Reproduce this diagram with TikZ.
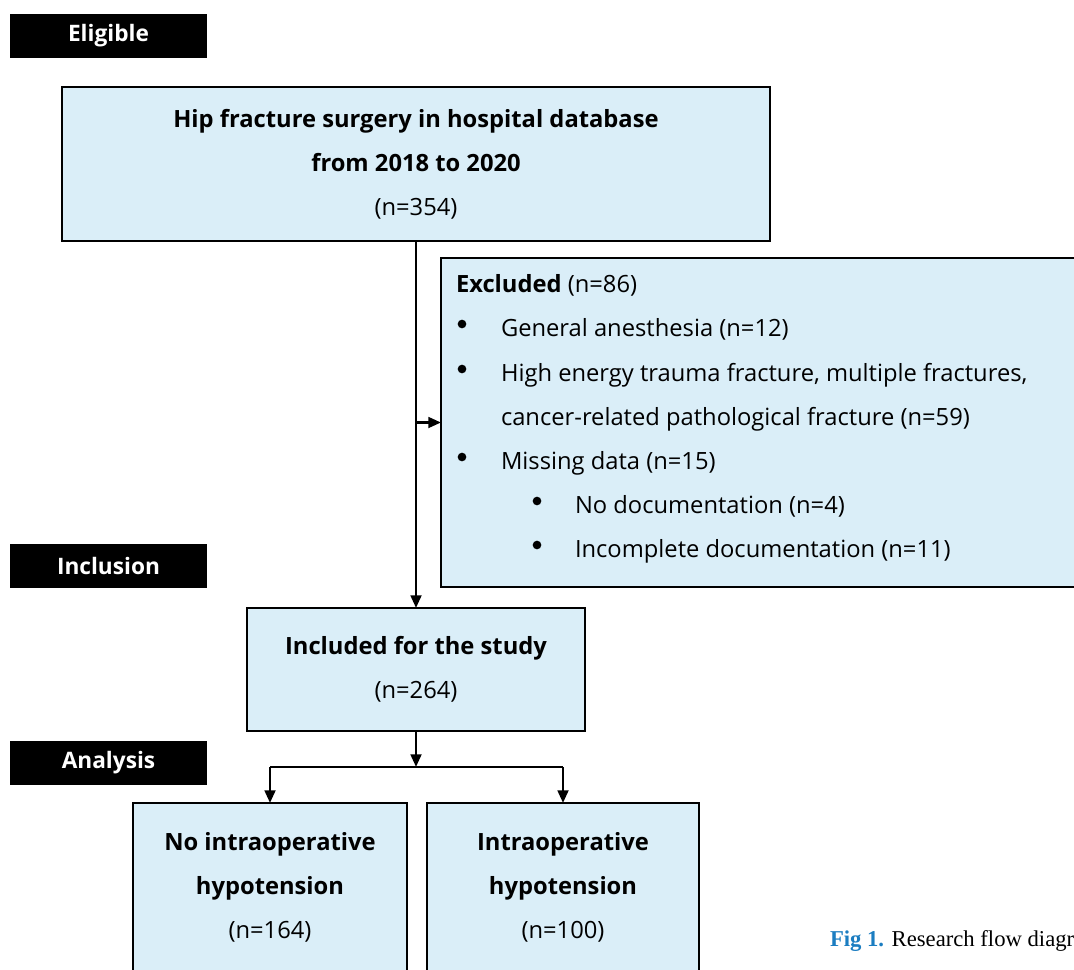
\documentclass[tikz,border=0pt]{standalone}
\usepackage{fontspec}
\setmainfont{Open Sans}
\newfontfamily\capfont{Liberation Serif}
\usetikzlibrary{arrows.meta}
\definecolor{boxfill}{HTML}{DAEEF8}
\definecolor{figblue}{HTML}{1B7DC1}
\begin{document}
\begin{tikzpicture}[x=0.75pt,y=-0.75pt,
  every node/.style={inner sep=0pt,outer sep=0pt},
  txt/.style={font=\fontsize{17.8}{33}\selectfont},
  stage/.style={fill=black,text=white,minimum width=148pt,minimum height=33pt,font=\fontsize{17}{20}\selectfont\bfseries},
  flowbox/.style={draw=black,line width=1.6pt,fill=boxfill},
  dot/.style={circle,fill=black,minimum size=6.5pt},
  conn/.style={line width=2pt,-{Triangle[length=9.5pt,width=8pt]}},
  plain/.style={line width=2pt}]
\useasboundingbox (0,0) rectangle (1074,970);
\clip (0,0) rectangle (1074,970);

% stage labels
\node[stage] (elig) at (108.5,36) {Eligible};
\node[stage] (incl) at (108.5,566) {Inclusion};
\node[stage] (anal) at (108.5,763) {Analysis};

% boxes
\node[flowbox,minimum width=531pt,minimum height=115.5pt,txt,align=center] (hip) at (416,164)
  {\textbf{Hip fracture surgery in hospital database}\\\textbf{from 2018 to 2020}\\(n=354)};
\node[flowbox,minimum width=480pt,minimum height=246.75pt] (exc) at (761,422.5) {};
\node[flowbox,minimum width=253.5pt,minimum height=92.25pt,txt,align=center] (inc) at (416,669.5)
  {\textbf{Included for the study}\\(n=264)};
\node[flowbox,minimum width=205.5pt,minimum height=150pt] (nohyp) at (270,903) {};
\node[flowbox,minimum width=204pt,minimum height=150pt] (hyp) at (563,903) {};

% excluded list
\node[txt,anchor=base west] (e0) at (456,292) {\textbf{Excluded} (n=86)};
\node[dot] (b1) at (462,324) {};
\node[txt,anchor=base west] (e1) at (501,336) {General anesthesia (n=12)};
\node[dot] (b2) at (462,369) {};
\node[txt,anchor=base west] (e2) at (501,381) {High energy trauma fracture, multiple fractures,};
\node[txt,anchor=base west] (e3) at (501,425) {cancer-related pathological fracture (n=59)};
\node[dot] (b3) at (462,457) {};
\node[txt,anchor=base west] (e4) at (501,469) {Missing data (n=15)};
\node[dot] (b4) at (537,501) {};
\node[txt,anchor=base west] (e5) at (575,513) {No documentation (n=4)};
\node[dot] (b5) at (537,545) {};
\node[txt,anchor=base west] (e6) at (575,557) {Incomplete documentation (n=11)};

% group texts
\node[txt,align=center] (t1) at (270,887) {\textbf{No intraoperative}\\\textbf{hypotension}\\(n=164)};
\node[txt,align=center] (t2) at (563,887) {\textbf{Intraoperative}\\\textbf{hypotension}\\(n=100)};

% caption
\node[anchor=base west,font=\capfont\fontsize{17}{20}\selectfont] (cap) at (830,946)
  {\textcolor{figblue}{\textbf{Fig 1.}} Research flow diagram};

% connectors
\coordinate (split) at (416,767);
\draw[conn] (hip.south) -- (inc.north);
\draw[conn] (hip.south |- exc.west) -- (exc.west);
\draw[conn] (inc.south) -- (split);
\draw[plain] (nohyp.north |- split) -- (hyp.north |- split);
\draw[conn] (nohyp.north |- split) -- (nohyp.north);
\draw[conn] (hyp.north |- split) -- (hyp.north);
\end{tikzpicture}
\end{document}
